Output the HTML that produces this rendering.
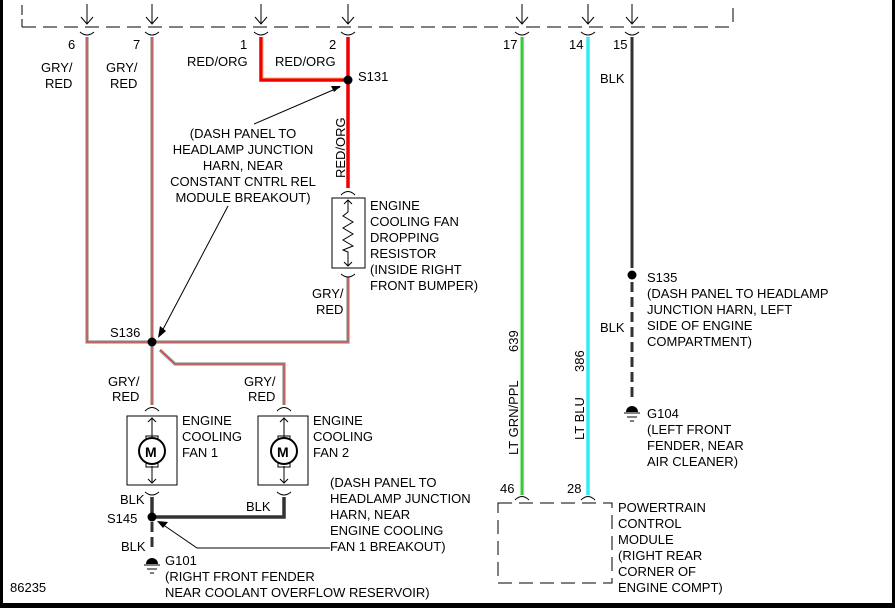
<!DOCTYPE html>
<html><head><style>
html,body{margin:0;padding:0;background:#fff}
svg{display:block}
text{font-family:"Liberation Sans",Arial,sans-serif;font-size:13px;fill:#000}
</style></head><body>
<svg width="895" height="608" viewBox="0 0 895 608" xmlns="http://www.w3.org/2000/svg">
<rect x="0" y="0" width="895" height="608" fill="#fff"/>
<line x1="1.5" y1="0" x2="1.5" y2="608" stroke="#000" stroke-width="3"/>
<line x1="893.5" y1="0" x2="893.5" y2="608" stroke="#000" stroke-width="3"/>
<rect x="0" y="603" width="895" height="5" fill="#000"/>
<line x1="22" y1="27" x2="735" y2="27" stroke="#000" stroke-width="1" stroke-dasharray="14,7"/>
<line x1="22" y1="5" x2="22" y2="27" stroke="#000" stroke-dasharray="10,4"/>
<line x1="733" y1="8" x2="733" y2="22" stroke="#000"/>
<g stroke="#000" fill="none" stroke-width="1">
<path d="M87 4V24M81 17L87 24L93 17M80 32Q87 38 94 32"/>
<path d="M152 4V24M146 17L152 24L158 17M145 32Q152 38 159 32"/>
<path d="M261 4V24M255 17L261 24L267 17M254 32Q261 38 268 32"/>
<path d="M348 4V24M342 17L348 24L354 17M341 32Q348 38 355 32"/>
<path d="M522 4V24M516 17L522 24L528 17M515 32Q522 38 529 32"/>
<path d="M588 4V24M582 17L588 24L594 17M581 32Q588 38 595 32"/>
<path d="M632 4V24M626 17L632 24L638 17M625 32Q632 38 639 32"/>
</g>
<g fill="none" stroke-linejoin="miter">
<path d="M87 37V342H150M152 37V405M155 342H348V277M160 350L175 364H284V405" stroke="#a8a8a8" stroke-width="3.5"/>
<path d="M87 37V342H150M152 37V405M155 342H348V277M160 350L175 364H284V405" stroke="#d22" stroke-width="1"/>
<path d="M261 37V80H345M348 37V188" stroke="#e00" stroke-width="3.5"/>
<path d="M263 37V78H345" stroke="#fa6" stroke-width="1"/>
<path d="M522 37V495" stroke="#3c3" stroke-width="3"/>
<path d="M524 37V495" stroke="#fcf" stroke-width="1"/>
<path d="M588 37V495" stroke="#3ee" stroke-width="3.5"/>
<path d="M632 37V268" stroke="#333" stroke-width="3"/>
<path d="M632 282V400" stroke="#333" stroke-width="3" stroke-dasharray="10,5"/>
<path d="M152 497V517M155 517H284V497" stroke="#333" stroke-width="3.5"/>
<path d="M152 522V552" stroke="#333" stroke-width="3" stroke-dasharray="10,5"/>
</g>
<circle cx="348" cy="80" r="4.5" fill="#000"/>
<circle cx="152" cy="342" r="4.5" fill="#000"/>
<circle cx="152" cy="517" r="4.5" fill="#000"/>
<circle cx="632" cy="275" r="4.5" fill="#000"/>
<g stroke="#000" fill="none">
<path d="M254 124L340 87"/><path d="M228 206L160 335"/><path d="M330 548H197L162 524"/>
</g>
<path d="M341 86L331 86L334 92Z" fill="#000"/>
<path d="M158 338L160 326L166 331Z" fill="#000"/>
<path d="M157 521L168 522L163 528Z" fill="#000"/>
<g stroke="#000" fill="none">
<path d="M341 195Q348 188 355 195"/>
<rect x="332" y="198" width="33" height="70"/>
<path d="M348 200V212L343 216L353 222L343 228L353 234L343 240L353 246L343 250L348 252V266M344 204L348 200L352 204M344 262L348 266L352 262"/>
<path d="M341 274Q348 280 355 274"/>
</g>
<g stroke="#000" fill="none">
<path d="M145 411Q152 404 159 411"/>
<rect x="127" y="416" width="50" height="69"/>
<path d="M152 418V437M148 422L152 418L156 422M152 466V483M148 479L152 483L156 479"/>
<rect x="146" y="436" width="12" height="6"/><rect x="146" y="461" width="12" height="6"/>
<circle cx="152" cy="451" r="13" stroke-width="2" fill="#fff"/>
<path d="M145 492Q152 498 159 492"/>
<path d="M277 411Q284 404 291 411"/>
<rect x="258" y="416" width="50" height="69"/>
<path d="M284 418V437M280 422L284 418L288 422M284 466V483M280 479L284 483L288 479"/>
<rect x="278" y="436" width="12" height="6"/><rect x="278" y="461" width="12" height="6"/>
<circle cx="284" cy="451" r="13" stroke-width="2" fill="#fff"/>
<path d="M277 492Q284 498 291 492"/>
<path d="M515 500Q522 493 529 500"/><path d="M581 500Q588 493 595 500"/>
<rect x="498" y="503" width="114" height="80" stroke-dasharray="14,7"/>
</g>
<text x="145" y="457" style="font-size:14px;font-weight:bold">M</text>
<text x="277" y="457" style="font-size:14px;font-weight:bold">M</text>
<g stroke="#000">
<path d="M144 565H160M147 569H157M150 573H154"/>
<path d="M624 413H640M627 417H637M630 421H634"/>
</g>
<path d="M146 564A6 6 0 0 1 158 564Z" fill="#000"/>
<path d="M626 412A6 6 0 0 1 638 412Z" fill="#000"/>
<text x="68" y="49">6</text><text x="133" y="49">7</text><text x="240" y="49">1</text><text x="329" y="49">2</text>
<text x="503" y="49">17</text><text x="569" y="49">14</text><text x="613" y="49">15</text>
<text x="41" y="72">GRY/</text><text x="45" y="88">RED</text>
<text x="106" y="72">GRY/</text><text x="110" y="88">RED</text>
<text x="187" y="66">RED/ORG</text><text x="275" y="66">RED/ORG</text>
<text x="358" y="81">S131</text>
<text x="600" y="83">BLK</text>
<g text-anchor="middle">
<text x="243" y="138">(DASH PANEL TO</text>
<text x="243" y="154">HEADLAMP JUNCTION</text>
<text x="243" y="170">HARN, NEAR</text>
<text x="243" y="186">CONSTANT CNTRL REL</text>
<text x="243" y="202">MODULE BREAKOUT)</text>
</g>
<text transform="translate(345,178) rotate(-90)">RED/ORG</text>
<text x="370" y="210">ENGINE</text><text x="370" y="226">COOLING FAN</text><text x="370" y="242">DROPPING</text><text x="370" y="258">RESISTOR</text><text x="370" y="274">(INSIDE RIGHT</text><text x="370" y="290">FRONT BUMPER)</text>
<text x="312" y="298">GRY/</text><text x="316" y="314">RED</text>
<text x="110" y="337">S136</text>
<text x="108" y="386">GRY/</text><text x="112" y="401">RED</text>
<text x="244" y="386">GRY/</text><text x="248" y="401">RED</text>
<text x="182" y="425">ENGINE</text><text x="182" y="441">COOLING</text><text x="182" y="457">FAN 1</text>
<text x="313" y="425">ENGINE</text><text x="313" y="441">COOLING</text><text x="313" y="457">FAN 2</text>
<text x="330" y="487">(DASH PANEL TO</text><text x="330" y="503">HEADLAMP JUNCTION</text><text x="330" y="519">HARN, NEAR</text><text x="330" y="535">ENGINE COOLING</text><text x="330" y="551">FAN 1 BREAKOUT)</text>
<text x="120" y="504">BLK</text><text x="246" y="511">BLK</text>
<text x="107" y="523">S145</text>
<text x="121" y="551">BLK</text>
<text x="165" y="565">G101</text>
<text x="165" y="581">(RIGHT FRONT FENDER</text>
<text x="165" y="597">NEAR COOLANT OVERFLOW RESERVOIR)</text>
<text x="10" y="592">86235</text>
<text x="647" y="282">S135</text><text x="647" y="298">(DASH PANEL TO HEADLAMP</text><text x="647" y="314">JUNCTION HARN, LEFT</text><text x="647" y="330">SIDE OF ENGINE</text><text x="647" y="346">COMPARTMENT)</text>
<text x="600" y="332">BLK</text>
<text x="647" y="418">G104</text><text x="647" y="434">(LEFT FRONT</text><text x="647" y="450">FENDER, NEAR</text><text x="647" y="466">AIR CLEANER)</text>
<text transform="translate(518,455) rotate(-90)">LT GRN/PPL</text>
<text transform="translate(518,352) rotate(-90)">639</text>
<text transform="translate(584,440) rotate(-90)">LT BLU</text>
<text transform="translate(584,372) rotate(-90)">386</text>
<text x="500" y="493">46</text><text x="567" y="493">28</text>
<text x="618" y="512">POWERTRAIN</text><text x="618" y="528">CONTROL</text><text x="618" y="544">MODULE</text><text x="618" y="560">(RIGHT REAR</text><text x="618" y="576">CORNER OF</text><text x="618" y="592">ENGINE COMPT)</text>
</svg>
</body></html>
